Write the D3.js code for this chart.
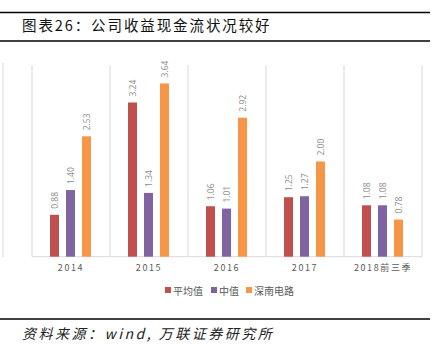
<!DOCTYPE html>
<html><head><meta charset="utf-8">
<script src="https://cdn.jsdelivr.net/npm/d3@7/dist/d3.min.js"></script>
<style>body{margin:0;background:#fff;}svg{display:block;}</style>
</head><body>
<script>
const categories = ["2014","2015","2016","2017","2018前三季"];
const seriesNames = ["平均值","中值","深南电路"];
const meanValues = [0.88, 3.24, 1.06, 1.25, 1.08];
const medianValues = [1.40, 1.34, 1.01, 1.27, 1.08];
const snValues = [2.53, 3.64, 2.92, 2.00, 0.78];
const colors = ["#C0504D","#8064A2","#F79646"];
const titleText = "图表26：公司收益现金流状况较好";
const sourceText = "资料来源：wind, 万联证券研究所";

const W=441,H=355;
const svg=d3.select("body").append("svg").attr("width",W).attr("height",H);
const cjk="'Noto Sans CJK SC','Noto Sans',sans-serif";

// header lines
svg.append("line").attr("x1",0).attr("x2",430).attr("y1",12.5).attr("y2",12.5).attr("stroke","#000").attr("stroke-width",1.6);
svg.append("line").attr("x1",0).attr("x2",430).attr("y1",41).attr("y2",41).attr("stroke","#000").attr("stroke-width",1.6);
svg.append("text").attr("x",22).attr("y",31).attr("font-family",cjk).attr("font-size",14.5).attr("letter-spacing",1.9).attr("fill","#111").text(titleText);

const x=d3.scaleBand().domain(categories).range([32,422]).padding(0);
const xi=d3.scaleBand().domain(seriesNames).range([18,59]).paddingInner(0.4375).paddingOuter(0);
const y=d3.scaleLinear().domain([0,4]).range([256.7,66.3]);

const data=[meanValues,medianValues,snValues];

// gridlines (category boundaries)
const bounds=categories.map(c=>x(c)).concat([x.range()[1]]);
svg.append("g").selectAll("line").data(bounds).join("line")
  .attr("x1",d=>d).attr("x2",d=>d).attr("y1",65).attr("y2",256.7)
  .attr("stroke","#d9d9d9").attr("stroke-width",1);
svg.append("line").attr("x1",3).attr("x2",3).attr("y1",63).attr("y2",257).attr("stroke","#d9d9d9");
svg.append("line").attr("x1",32).attr("x2",422).attr("y1",256.7).attr("y2",256.7).attr("stroke","#d9d9d9");

// bars
seriesNames.forEach((s,si)=>{
  const g=svg.append("g");
  g.selectAll("rect").data(data[si]).join("rect")
    .attr("x",(d,i)=>x(categories[i])+xi(s))
    .attr("width",xi.bandwidth())
    .attr("y",d=>y(d)).attr("height",d=>y(0)-y(d))
    .attr("fill",colors[si]);
  g.selectAll("text").data(data[si]).join("text")
    .attr("transform",(d,i)=>`translate(${x(categories[i])+xi(s)+xi.bandwidth()/2+3},${y(d)-6}) rotate(-90)`)
    .attr("font-family","'Open Sans',sans-serif").attr("font-size",8.5).attr("fill","#8c8c8c")
    .text(d=>d.toFixed(2));
});

// x labels
svg.append("g").selectAll("text").data(categories).join("text")
  .attr("x",d=>x(d)+x.bandwidth()/2).attr("y",271).attr("text-anchor","middle")
  .attr("font-family",cjk).attr("font-size",9).attr("letter-spacing",1.6).attr("fill","#595959")
  .text(d=>d);

// legend
const legX=[165,211,246];
const lg=svg.append("g");
seriesNames.forEach((s,i)=>{
  lg.append("rect").attr("x",legX[i]).attr("y",287).attr("width",6).attr("height",6).attr("fill",colors[i]);
  lg.append("text").attr("x",legX[i]+8).attr("y",294.5).attr("font-family",cjk).attr("font-size",10).attr("fill","#595959").text(s);
});

// footer
svg.append("line").attr("x1",0).attr("x2",430).attr("y1",319).attr("y2",319).attr("stroke","#000").attr("stroke-width",1.6);
svg.append("text").attr("x",22).attr("y",339).attr("font-family",cjk).attr("font-style","italic").attr("font-size",14).attr("letter-spacing",2.5).attr("fill","#222").text(sourceText);
</script>
</body></html>
